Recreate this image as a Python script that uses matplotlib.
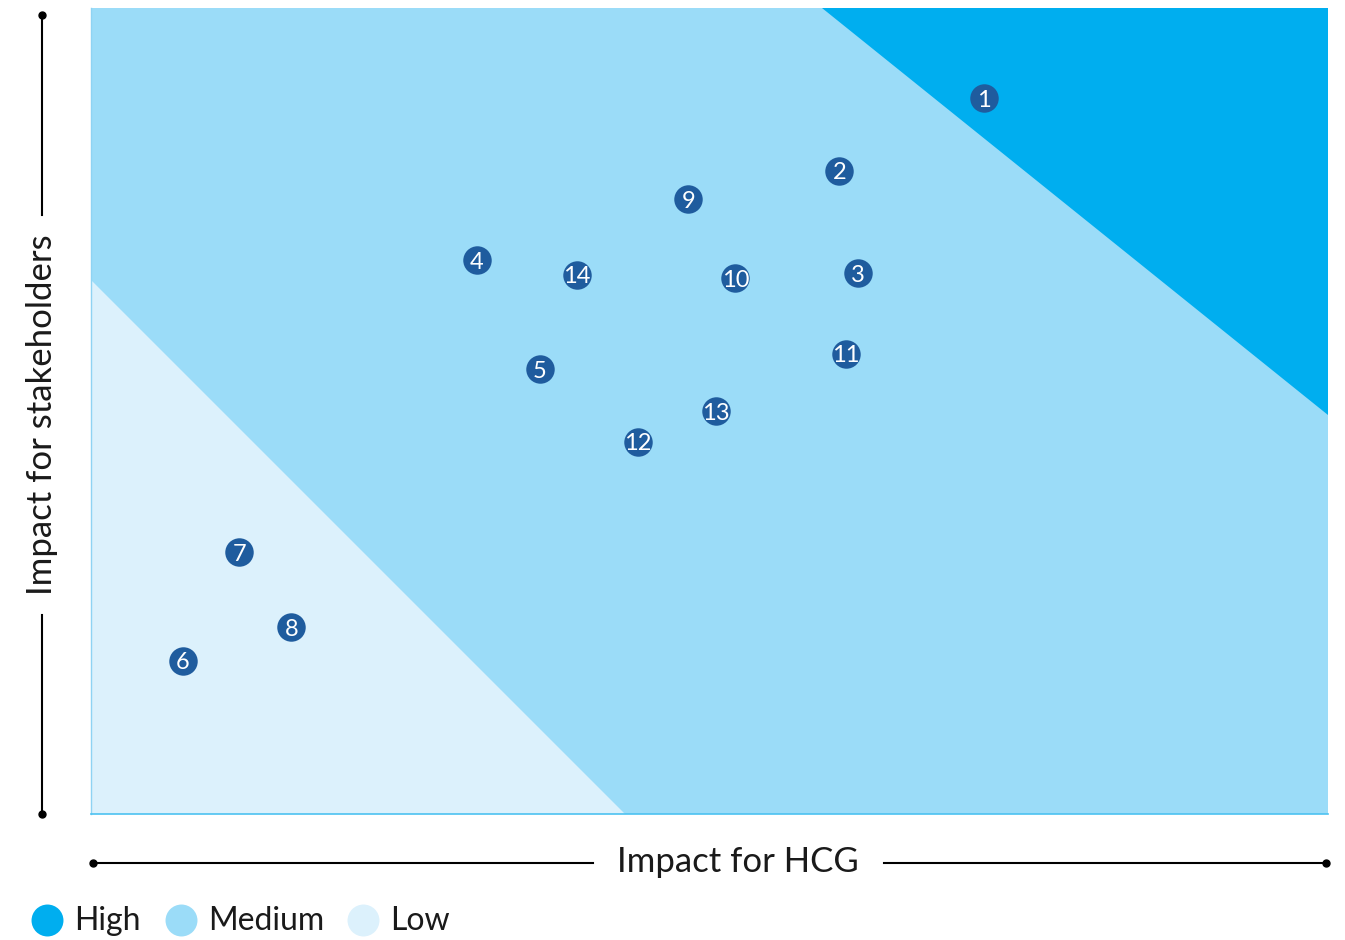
import matplotlib
matplotlib.use("Agg")
import matplotlib.pyplot as plt

# Data
labels = ["1", "2", "3", "4", "5", "6", "7", "8", "9", "10", "11", "12", "13", "14"]
hcg = [72.2, 60.5, 62.0, 31.2, 36.3, 7.4, 12.0, 16.2, 48.3, 52.1, 61.0, 44.2, 50.5, 39.3]
stake = [88.8, 79.8, 67.1, 68.7, 55.2, 19.0, 32.5, 23.2, 76.3, 66.5, 57.1, 46.2, 50.0, 66.9]

zone_names = ["High", "Medium", "Low"]
zone_colors = ["#00aeef", "#9bdcf8", "#dcf1fc"]
high_x = [59.1, 100, 100]
high_y = [100, 100, 49.5]
low_x = [0, 0, 43.2]
low_y = [66.25, 0, 0]

plt.rcParams['font.family'] = ['Lato', 'DejaVu Sans']

W, H = 1345, 940
fig = plt.figure(figsize=(W / 100, H / 100), dpi=100)
ax = fig.add_axes([91 / W, (H - 814) / H, 1237 / W, 806 / H])
ax.set_xlim(0, 100)
ax.set_ylim(0, 100)
ax.set_facecolor(zone_colors[1])
ax.fill(high_x, high_y, color=zone_colors[0], lw=0, zorder=1)
ax.fill(low_x, low_y, color=zone_colors[2], lw=0, zorder=1)
ax.set_xticks([])
ax.set_yticks([])
for s in ["top", "right"]:
    ax.spines[s].set_visible(False)
ax.spines["bottom"].set_color("#4cc2f1")
ax.spines["bottom"].set_linewidth(1.2)
ax.spines["left"].set_color("#8fd3f3")
ax.spines["left"].set_linewidth(1.0)

ax.scatter(hcg, stake, s=420, color="#1f5c9e", zorder=3, linewidths=0)
for l, x, y in zip(labels, hcg, stake):
    ax.text(x, y, l, color="white", fontsize=17, ha="center", va="center_baseline",
            zorder=4)

# Axis arrows (overlay in figure pixel coords)
ov = fig.add_axes([0, 0, 1, 1])
ov.set_xlim(0, W)
ov.set_ylim(H, 0)
ov.axis("off")
ov.patch.set_alpha(0)
# vertical
ov.plot([42, 42], [15, 215], color="black", lw=1.5)
ov.plot([42, 42], [615, 814], color="black", lw=1.5)
ov.plot([42, 42], [15, 814], 'o', color="black", ms=5, ls="none")
ov.text(42, 415, "Impact for stakeholders", rotation=90, ha="center", va="center",
        fontsize=25, color="#1a1a1a")
# horizontal
ov.plot([93, 593], [863, 863], color="black", lw=1.5)
ov.plot([884, 1326], [863, 863], color="black", lw=1.5)
ov.plot([93, 1326], [863, 863], 'o', color="black", ms=5, ls="none")
ov.text(738, 862, "Impact for HCG", ha="center", va="center", fontsize=25, color="#1a1a1a")

# Legend
leg_x = [47, 181, 363]
for name, c, x in zip(zone_names, zone_colors, leg_x):
    ov.plot([x], [920], 'o', color=c, ms=23, mew=0)
    ov.text(x + 27, 921, name, ha="left", va="center", fontsize=23, color="#1a1a1a")

fig.savefig("out.png", dpi=100)
